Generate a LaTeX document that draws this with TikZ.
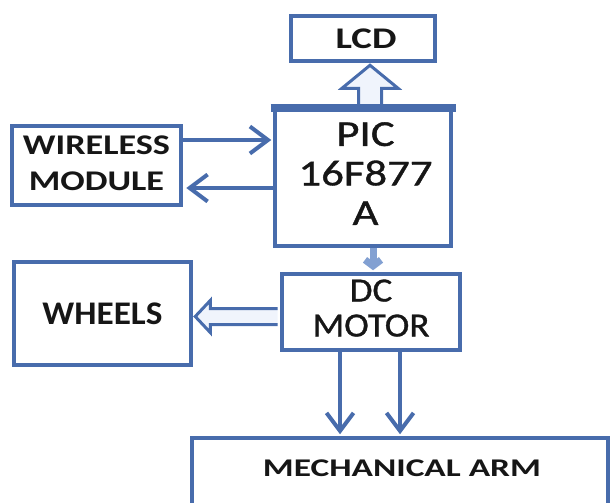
\documentclass[tikz,border=0pt]{standalone}
\usepackage{fontspec}
\usepackage{graphicx}
\setmainfont{Carlito}
\newfontfamily\heavyreg[FakeBold=0.9]{Carlito}
\usetikzlibrary{arrows.meta,calc}
\definecolor{bl}{RGB}{72,108,172}
\definecolor{bllight}{RGB}{130,160,210}
\definecolor{txt}{RGB}{22,22,22}
\definecolor{fillhollow}{RGB}{240,244,252}
\newcommand{\fitw}[2]{\resizebox{#1}{\height}{#2}}
\newcommand{\blk}[1]{\begin{tabular}{@{}c@{}}#1\end{tabular}}
\begin{document}
\begin{tikzpicture}[x=1pt,y=-1pt,
  boxs/.style={draw=bl,line width=4.5pt,fill=white,inner sep=0pt,text=txt,align=center},
  arr/.style={draw=bl,line width=4pt,-{Straight Barb[length=18pt,width=27pt]}},
  hollow/.style={draw=bl,line width=3pt,fill=fillhollow,line join=miter}]
\useasboundingbox (0,0) rectangle (613,503);
\clip (0,0) rectangle (613,503);
\node[boxs,minimum width=144pt,minimum height=45pt] (lcd) at (363,38.5)
  {\hspace*{6pt}\fontsize{30}{30}\selectfont\bfseries\fitw{61pt}{LCD}};
\node[boxs,minimum width=176pt,minimum height=137pt] (pic) at (363,177.5)
  {\hspace*{5pt}\heavyreg\fontsize{36.5}{39.5}\selectfont\fitw{134pt}{\blk{PIC\\16F877\\A}}};
\node[boxs,minimum width=169pt,minimum height=79pt] (wl) at (96.5,165.5)
  {\fontsize{28.5}{36}\selectfont\bfseries\fitw{147pt}{\blk{WIRELESS\\MODULE}}};
\node[boxs,minimum width=178pt,minimum height=76pt] (dc) at (371,312)
  {\heavyreg\fontsize{34}{35}\selectfont\fitw{117pt}{\blk{DC\\MOTOR}}};
\node[boxs,minimum width=177pt,minimum height=103pt] (wh) at (102.5,313.5)
  {\fontsize{33}{33}\selectfont\bfseries\fitw{120pt}{WHEELS}};
\node[boxs,minimum width=416pt,minimum height=80pt] (arm) at (400,478) {};
\node[text=txt,inner sep=0pt] (armt) at (402,468)
  {\fontsize{25.5}{25.5}\selectfont\bfseries\fitw{278pt}{MECHANICAL ARM}};
% coordinates for connector positions
\coordinate (y1) at (0,140);
\coordinate (y2) at (0,188);
\coordinate (x3) at (373,0);
\coordinate (x4) at (340,0);
\coordinate (x5) at (400,0);
\coordinate (ux) at (370,0);
\coordinate (y6) at (316.5,316.5);
% wireless <-> pic
\draw[arr] (wl.east |- y1) -- ($(pic.west |- y1)+(-1.5,0)$);
\draw[arr] (pic.west |- y2) -- ($(wl.east |- y2)+(3,0)$);
% pic -> dc
\draw[draw=bllight,line width=7pt,-{Straight Barb[length=6pt,width=16pt]}] (pic.south -| x3) -- ($(dc.north -| x3)+(0,-1.5)$);
% dc -> arm
\draw[arr] (dc.south -| x4) -- ($(arm.north -| x4)+(0,-1.5)$);
\draw[arr] (dc.south -| x5) -- ($(arm.north -| x5)+(0,-1.5)$);
% hollow arrow pic -> lcd
\coordinate (ua0) at ($(pic.north -| ux)+(0,-2.25)$);
\coordinate (ua1) at ($(lcd.south -| ux)+(0,2)$);
\draw[hollow] ($(ua0)+(-11.5,0)$) -- ($(ua1)+(-11.5,23)$) -- ($(ua1)+(-28,23)$) -- (ua1)
  -- ($(ua1)+(28,23)$) -- ($(ua1)+(11.5,23)$) -- ($(ua0)+(11.5,0)$);
% hollow arrow dc -> wheels
\coordinate (ha0) at ($(dc.west |- y6)+(-2.25,0)$);
\coordinate (ha1) at ($(wh.east |- y6)+(2,0)$);
\draw[hollow] ($(ha0)+(0,-8)$) -- ($(ha1)+(15,-8)$) -- ($(ha1)+(15,-16)$) -- (ha1)
  -- ($(ha1)+(15,16)$) -- ($(ha1)+(15,8)$) -- ($(ha0)+(0,8)$);
% thicker top border of pic
\draw[bl,line width=8pt] ($(pic.north west)+(-2.25,1.5)$) -- ($(pic.north east)+(2.25,1.5)$);
\end{tikzpicture}
\end{document}
